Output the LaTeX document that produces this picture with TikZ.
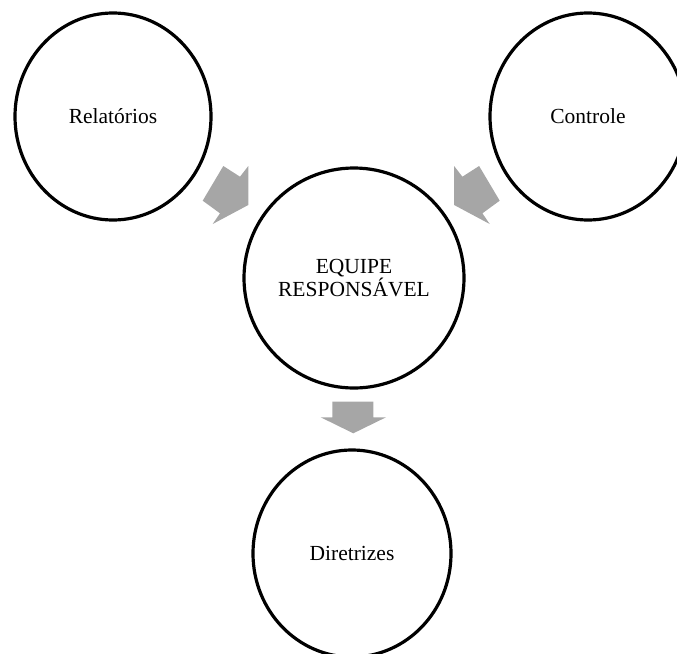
\documentclass[tikz,border=0pt]{standalone}
\usepackage{fontspec}
\setmainfont{Liberation Serif}
\usetikzlibrary{shapes.geometric}
\definecolor{arrowgray}{HTML}{A6A6A6}
\tikzset{
  bubble/.style={draw=black, line width=3.2pt, fill=white, ellipse, inner sep=0pt,
    align=center, font=\fontsize{21.5}{23}\selectfont},
  blockarrow/.style={fill=arrowgray, draw=none}
}
\begin{document}
\begin{tikzpicture}[x=1pt, y=-1pt]
  \useasboundingbox (0,0) rectangle (677,653);
  \clip (0,0) rectangle (677,653);

  % the four ovals
  \node[bubble, minimum width=196pt, minimum height=207pt] (rel) at (113,116.5) {Relatórios};
  \node[bubble, minimum width=196pt, minimum height=207pt] (ctl) at (588,116.5) {Controle};
  \node[bubble, minimum width=220pt, minimum height=220pt] (team) at (354,278) {EQUIPE\\RESPONSÁVEL};
  \node[bubble, minimum width=198pt, minimum height=207pt] (dir) at (352,553.5) {Diretrizes};

  % gray block arrows
  \fill[blockarrow] (223.3,166) -- (240,176.7) -- (248.3,166) -- (248.3,205)
    -- (212.7,224) -- (220,213.3) -- (202.7,200.7) -- cycle;
  \fill[blockarrow] (479.1,166) -- (462.4,176.7) -- (454.1,166) -- (454.1,205)
    -- (489.7,224) -- (482.4,213.3) -- (499.7,200.7) -- cycle;
  \fill[blockarrow] (332.3,401.7) -- (373.3,401.7) -- (373.3,417.3) -- (386,417.3)
    -- (353.3,433.3) -- (320.7,417.3) -- (332.3,417.3) -- cycle;
\end{tikzpicture}
\end{document}
